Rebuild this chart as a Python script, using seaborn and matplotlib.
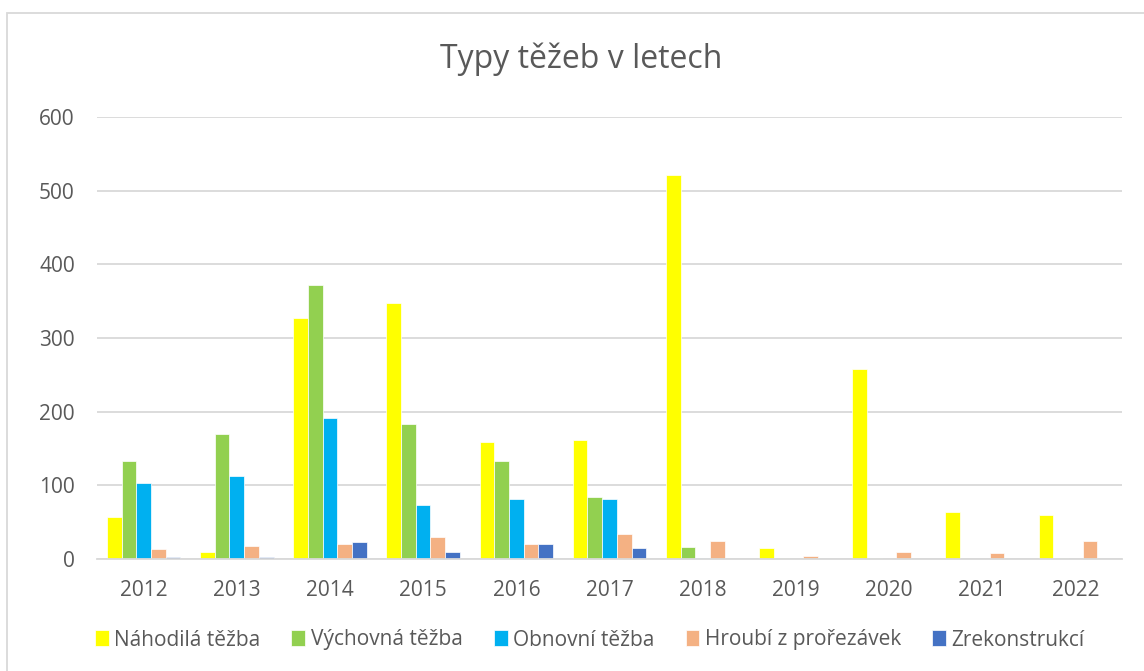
import matplotlib
matplotlib.use('Agg')
import matplotlib.pyplot as plt
import seaborn as sns
import pandas as pd
from matplotlib.patches import Rectangle

sns.set_theme(style='white')
plt.rcParams['font.family'] = ['Open Sans', 'DejaVu Sans']

# data
years = ['2012', '2013', '2014', '2015', '2016', '2017', '2018', '2019', '2020', '2021', '2022']
series_names = ['Náhodilá těžba', 'Výchovná těžba', 'Obnovní těžba', 'Hroubí z prořezávek', 'Zrekonstrukcí']
nahodila = [57, 9, 327, 347, 159, 162, 521, 15, 258, 64, 60]
vychovna = [133, 170, 372, 183, 133, 84, 16, 2, 1, 0, 1]
obnovni = [103, 113, 192, 73, 81, 82, 2, 0, 0, 0, 0]
hroubi = [13, 18, 21, 30, 21, 34, 24, 4, 9, 8, 24]
zrekonstrukci = [3, 3, 23, 9, 21, 15, 0, 0, 0, 0, 0]
colors = ['#FFFF00', '#92D050', '#00B0F0', '#F4B183', '#4472C4']

values = [nahodila, vychovna, obnovni, hroubi, zrekonstrukci]
df = pd.DataFrame({
    'rok': years * len(series_names),
    'typ': [name for name in series_names for _ in years],
    'hodnota': [v for vals in values for v in vals],
})

fig = plt.figure(figsize=(11.44, 6.71), dpi=100)
ax = fig.add_axes([97 / 1144, 1 - 559 / 671, (1122 - 97) / 1144, (559 - 117) / 671])

sns.barplot(data=df, x='rok', y='hodnota', hue='typ', hue_order=series_names,
            palette=colors, width=0.79, edgecolor='white', linewidth=0.5,
            saturation=1, ax=ax)

ax.set_ylim(0, 600)
ax.set_yticks(range(0, 601, 100))
ax.set_xlim(-0.5, len(years) - 0.5)
ax.yaxis.grid(True, color='#D9D9D9', linewidth=1.3)
ax.set_axisbelow(True)
for side in ['top', 'right', 'left']:
    ax.spines[side].set_visible(False)
ax.spines['bottom'].set_color('#D9D9D9')
ax.spines['bottom'].set_linewidth(1.3)
ax.tick_params(axis='both', length=0, labelsize=15, colors='#595959')
ax.tick_params(axis='y', pad=16)
ax.tick_params(axis='x', pad=15)
ax.set_xlabel('')
ax.set_ylabel('')

fig.text(0.508, 1 - 59 / 671, 'Typy těžeb v letech', ha='center', va='center',
         fontsize=23, color='#595959')

handles, labels = ax.get_legend_handles_labels()
ax.legend_.remove()
fig.legend(handles, labels, loc='center left', bbox_to_anchor=(76 / 1144, 1 - 640 / 671),
           ncol=5, frameon=False, fontsize=15, labelcolor='#595959',
           handlelength=0.67, handleheight=0.8, handletextpad=0.25, columnspacing=1.5)

# outer chart border
fig.add_artist(Rectangle((7 / 1144, -0.05), 1.2, 1 - 13 / 671 + 0.05, transform=fig.transFigure,
                         fill=False, edgecolor='#D9D9D9', linewidth=1.3))

fig.savefig('out.png', dpi=100)
